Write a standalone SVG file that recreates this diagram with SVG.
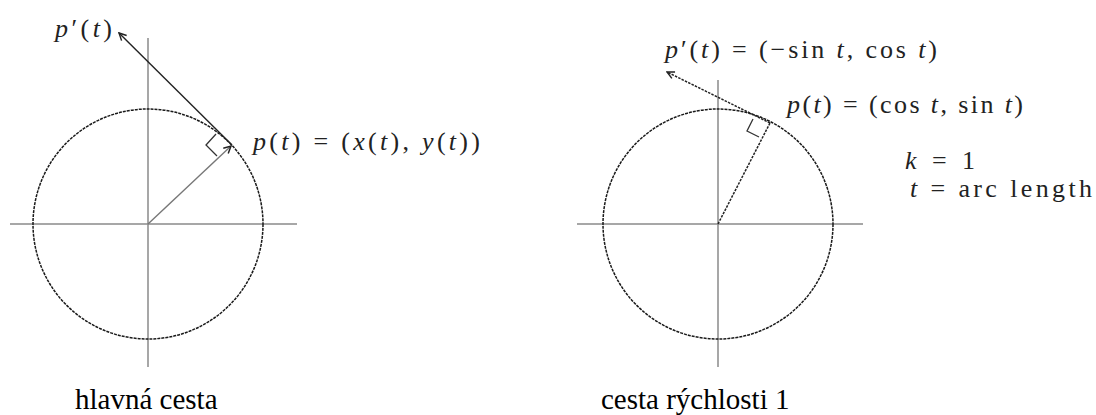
<svg xmlns="http://www.w3.org/2000/svg" width="1096" height="415" viewBox="0 0 1096 415">
<style>
.axis{stroke:#8a8a8a;stroke-width:1.5;fill:none}
.circ{stroke:#1a1a1a;stroke-width:1.5;fill:none;stroke-dasharray:3 1}
.vec{stroke:#222;stroke-width:1.4;fill:none}
.rad{stroke:#777;stroke-width:1.4;fill:none}
.dot{stroke:#222;stroke-width:1.5;fill:none;stroke-dasharray:2.5 1.2}
.sq{stroke:#333;stroke-width:1.3;fill:none}
.math{font-family:"Liberation Serif","Times New Roman",serif;font-size:26px;fill:#222}
.it{font-style:italic}
.cap{font-family:"Liberation Serif","Times New Roman",serif;font-size:29px;fill:#000}
</style>
<defs>
<marker id="ah" viewBox="0 0 10 10" refX="9" refY="5" markerWidth="9" markerHeight="9" markerUnits="userSpaceOnUse" orient="auto">
<path d="M1,1 L9,5 L1,9" fill="none" stroke="#222" stroke-width="1.6"/>
</marker>
</defs>

<g id="left-diagram">
<g id="left-axes">
<line class="axis" x1="10" y1="224" x2="297" y2="224"/>
<line class="axis" x1="148" y1="38" x2="148" y2="367"/>
</g>
<circle id="left-circle" class="circ" cx="148" cy="224" r="115"/>
<g id="left-connectors">
<line class="rad" x1="148" y1="224" x2="231" y2="146" marker-end="url(#ah)"/>
<line class="vec" x1="232" y1="145" x2="119" y2="33" marker-end="url(#ah)"/>
<polyline class="sq" points="217,156 206,145 216,134"/>
</g>
<g id="left-labels">
<text class="math" x="55" y="37" font-size="28" textLength="57" lengthAdjust="spacing"><tspan class="it">p</tspan>′(<tspan class="it">t</tspan>)</text>
<text class="math" x="253" y="150" textLength="227" lengthAdjust="spacing"><tspan class="it">p</tspan>(<tspan class="it">t</tspan>) = (<tspan class="it">x</tspan>(<tspan class="it">t</tspan>), <tspan class="it">y</tspan>(<tspan class="it">t</tspan>))</text>
</g>
<text class="cap" x="75" y="409">hlavná cesta</text>
</g>

<g id="right-diagram">
<g id="right-axes">
<line class="axis" x1="577" y1="224" x2="863" y2="224"/>
<line class="axis" x1="718" y1="80" x2="718" y2="367"/>
</g>
<circle id="right-circle" class="circ" cx="718" cy="224" r="115"/>
<g id="right-connectors">
<line class="dot" x1="718" y1="224" x2="770" y2="123"/>
<line class="dot" x1="770" y1="123" x2="667" y2="72" marker-end="url(#ah)"/>
<polyline class="sq" points="759,137 747,131 753,119"/>
</g>
<g id="right-labels">
<text class="math" x="665" y="58" textLength="272" lengthAdjust="spacing"><tspan class="it">p</tspan>′(<tspan class="it">t</tspan>) = (−sin <tspan class="it">t</tspan>, cos <tspan class="it">t</tspan>)</text>
<text class="math" x="787" y="113" textLength="236" lengthAdjust="spacing"><tspan class="it">p</tspan>(<tspan class="it">t</tspan>) = (cos <tspan class="it">t</tspan>, sin <tspan class="it">t</tspan>)</text>
<text class="math" x="905" y="169" font-size="24" textLength="70" lengthAdjust="spacing"><tspan class="it">k</tspan> = 1</text>
<text class="math" x="910" y="197" font-size="24" textLength="182" lengthAdjust="spacing"><tspan class="it">t</tspan> = arc length</text>
</g>
<text class="cap" x="601" y="409">cesta rýchlosti 1</text>
</g>
</svg>
